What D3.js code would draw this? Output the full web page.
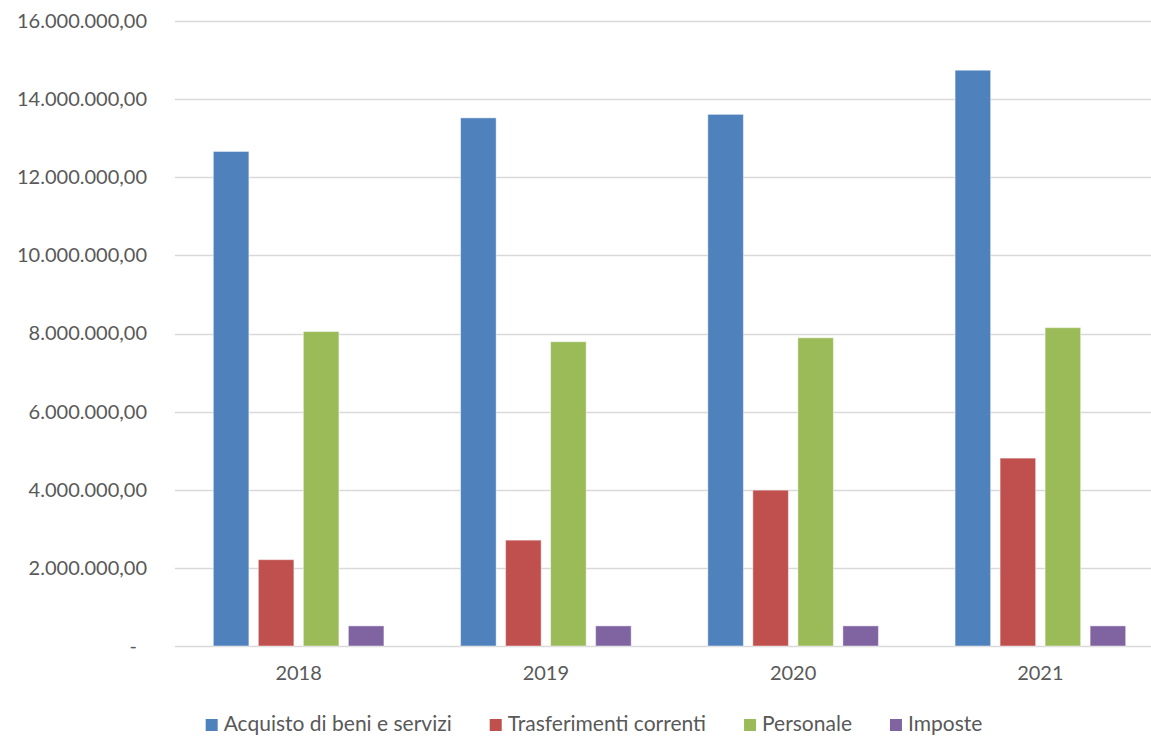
<!DOCTYPE html>
<html>
<head>
<meta charset="utf-8">
<script src="https://cdn.jsdelivr.net/npm/d3@7"></script>
<style>
  body { margin: 0; background: #fff; overflow: hidden; }
  text { font-family: Lato, "Open Sans", sans-serif; fill: #595959; }
</style>
</head>
<body>
<svg id="chart"></svg>
<script>
// data
var years = ["2018", "2019", "2020", "2021"];
var seriesNames = ["Acquisto di beni e servizi", "Trasferimenti correnti", "Personale", "Imposte"];
var acquisto = [12660000, 13520000, 13610000, 14740000];
var trasferimenti = [2210000, 2710000, 3990000, 4810000];
var personale = [8050000, 7790000, 7890000, 8150000];
var imposte = [515000, 515000, 515000, 515000];
var yTicks = [0, 2000000, 4000000, 6000000, 8000000, 10000000, 12000000, 14000000, 16000000];
var colors = ["#4F81BD", "#C0504D", "#9BBB59", "#8064A2"];

var values = [acquisto, trasferimenti, personale, imposte];

var width = 1151, height = 738;
// plot area runs past the right edge of the picture (it is cropped)
var margin = {top: 21, right: -13, bottom: 92, left: 175};

var svg = d3.select("#chart")
  .attr("width", width)
  .attr("height", height);

var yScale = d3.scaleLinear()
  .domain([0, 16000000])
  .range([height - margin.bottom, margin.top]);

var x0 = d3.scaleBand()
  .domain(years)
  .range([margin.left, width - margin.right])
  .padding(0);

var cw = x0.bandwidth();
var x1 = d3.scaleBand()
  .domain(seriesNames)
  .range([cw * 0.155, cw * 0.845])
  .paddingInner(0.21)
  .paddingOuter(0);

var itFormat = d3.formatLocale({decimal: ",", thousands: ".", grouping: [3], currency: ["€", ""]}).format(",.2f");

// gridlines
svg.append("g")
  .selectAll("line")
  .data(yTicks)
  .enter()
  .append("line")
  .attr("x1", margin.left)
  .attr("x2", width - margin.right)
  .attr("y1", d => Math.round(yScale(d)) + 0.5)
  .attr("y2", d => Math.round(yScale(d)) + 0.5)
  .style("stroke", "#D9D9D9")
  .style("stroke-width", "1.5px");

// y axis labels
var yAxis = d3.axisLeft(yScale)
  .tickValues(yTicks)
  .tickSize(0)
  .tickPadding(28)
  .tickFormat(d => d === 0 ? "-" : itFormat(d));

var yG = svg.append("g")
  .attr("transform", "translate(" + margin.left + ",0)")
  .call(yAxis);
yG.select(".domain").remove();
yG.selectAll("text")
  .style("font-size", "20px")
  .style("fill", "#595959")
  .attr("dx", d => d === 0 ? "-10" : "0");

// x axis labels
var xAxis = d3.axisBottom(x0).tickSize(0).tickPadding(20);
var xG = svg.append("g")
  .attr("transform", "translate(0," + (height - margin.bottom) + ")")
  .call(xAxis);
xG.select(".domain").remove();
xG.selectAll("text")
  .style("font-size", "20px")
  .style("fill", "#595959");

// bars
var groups = svg.append("g")
  .selectAll("g")
  .data(years)
  .enter()
  .append("g")
  .attr("transform", d => "translate(" + x0(d) + ",0)");

groups.selectAll("rect")
  .data((d, i) => seriesNames.map((s, j) => ({series: s, value: values[j][i], color: colors[j]})))
  .enter()
  .append("rect")
  .attr("x", d => x1(d.series))
  .attr("width", x1.bandwidth())
  .attr("y", d => yScale(d.value))
  .attr("height", d => yScale(0) - yScale(d.value))
  .attr("fill", d => d.color)
  .style("stroke", "rgba(255,255,255,0.45)")
  .style("stroke-width", "1px");

// legend
var legend = svg.append("g");
var items = legend.selectAll("g")
  .data(seriesNames)
  .enter()
  .append("g");

items.append("rect")
  .attr("width", 12)
  .attr("height", 12)
  .attr("y", -5)
  .attr("fill", (d, i) => colors[i]);

items.append("text")
  .attr("x", 18)
  .attr("dy", "0.35em")
  .style("font-size", "21px")
  .text(d => d);

var pos = 0, gap = 38, offsets = [];
items.each(function(d) {
  offsets.push(pos);
  pos += this.getBBox().width + gap;
});
pos -= gap;
var startX = 594 - pos / 2;
items.attr("transform", (d, i) => "translate(" + (startX + offsets[i]) + ",724)");
</script>
</body>
</html>
